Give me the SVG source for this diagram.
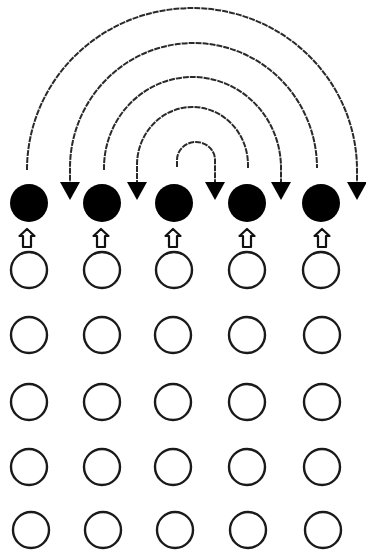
<svg xmlns="http://www.w3.org/2000/svg" xmlns:xlink="http://www.w3.org/1999/xlink" width="366" height="556" viewBox="0 0 366 556">
<style>
.bg{fill:#ffffff}
.dot{fill:#000000}
.ring{fill:none;stroke:#1a1a1a;stroke-width:2.4}
.arc{fill:none;stroke:#2a2a2a;stroke-width:2;stroke-dasharray:6 1}
.up{fill:#ffffff;stroke:#111111;stroke-width:2.2;stroke-linejoin:round}
.tri{fill:#000000}
</style>
<defs>
<path id="tri" class="tri" d="M-10,0 L10,0 L0,18 Z"/>
<path id="up" class="up" d="M0,0 L7.5,7 L4,7 L4,18 L-4,18 L-4,7 L-7.5,7 Z"/>
</defs>
<rect class="bg" x="0" y="0" width="366" height="556"/>
<g id="connectors">
<path class="arc" d="M27,170 A165,162 0 0 1 357,170 L357,183"/>
<path class="arc" d="M317,166 L317,168 A123.5,125 0 0 0 70,168 L70,183"/>
<path class="arc" d="M104,170 L104,168 A88.5,91 0 0 1 281,168 L281,183"/>
<path class="arc" d="M248,168 L248,165 A55.5,58 0 0 0 137,165 L137,183"/>
<path class="arc" d="M177,167 L177,160 A19,18 0 0 1 215,160 L215,183"/>
<use xlink:href="#tri" x="357" y="182"/>
<use xlink:href="#tri" x="70" y="182"/>
<use xlink:href="#tri" x="281" y="182"/>
<use xlink:href="#tri" x="137" y="182"/>
<use xlink:href="#tri" x="215" y="182"/>
<use xlink:href="#up" x="27" y="229"/>
<use xlink:href="#up" x="101" y="229"/>
<use xlink:href="#up" x="173" y="229"/>
<use xlink:href="#up" x="247" y="229"/>
<use xlink:href="#up" x="322" y="229"/>
</g>
<g id="a1"><circle class="dot" cx="29" cy="203" r="19"/></g>
<g id="a2"><circle class="dot" cx="102" cy="203" r="19"/></g>
<g id="a3"><circle class="dot" cx="174" cy="203" r="19"/></g>
<g id="a4"><circle class="dot" cx="247" cy="203" r="19"/></g>
<g id="a5"><circle class="dot" cx="321" cy="203" r="19"/></g>
<g id="r1c1"><circle class="ring" cx="29" cy="270" r="18"/></g>
<g id="r1c2"><circle class="ring" cx="102" cy="270" r="18"/></g>
<g id="r1c3"><circle class="ring" cx="174" cy="270" r="18"/></g>
<g id="r1c4"><circle class="ring" cx="247" cy="270" r="18"/></g>
<g id="r1c5"><circle class="ring" cx="321" cy="270" r="18"/></g>
<g id="r2c1"><circle class="ring" cx="29" cy="335" r="18"/></g>
<g id="r2c2"><circle class="ring" cx="102" cy="335" r="18"/></g>
<g id="r2c3"><circle class="ring" cx="173" cy="335" r="18"/></g>
<g id="r2c4"><circle class="ring" cx="247" cy="335" r="18"/></g>
<g id="r2c5"><circle class="ring" cx="322" cy="335" r="18"/></g>
<g id="r3c1"><circle class="ring" cx="29" cy="402" r="18"/></g>
<g id="r3c2"><circle class="ring" cx="102" cy="402" r="18"/></g>
<g id="r3c3"><circle class="ring" cx="173" cy="402" r="18"/></g>
<g id="r3c4"><circle class="ring" cx="247" cy="402" r="18"/></g>
<g id="r3c5"><circle class="ring" cx="322" cy="402" r="18"/></g>
<g id="r4c1"><circle class="ring" cx="29" cy="467" r="18"/></g>
<g id="r4c2"><circle class="ring" cx="102" cy="467" r="18"/></g>
<g id="r4c3"><circle class="ring" cx="173" cy="467" r="18"/></g>
<g id="r4c4"><circle class="ring" cx="247" cy="467" r="18"/></g>
<g id="r4c5"><circle class="ring" cx="322" cy="467" r="18"/></g>
<g id="r5c1"><circle class="ring" cx="31" cy="530" r="18"/></g>
<g id="r5c2"><circle class="ring" cx="103" cy="530" r="18"/></g>
<g id="r5c3"><circle class="ring" cx="175" cy="530" r="18"/></g>
<g id="r5c4"><circle class="ring" cx="248" cy="530" r="18"/></g>
<g id="r5c5"><circle class="ring" cx="323" cy="530" r="18"/></g>
</svg>
